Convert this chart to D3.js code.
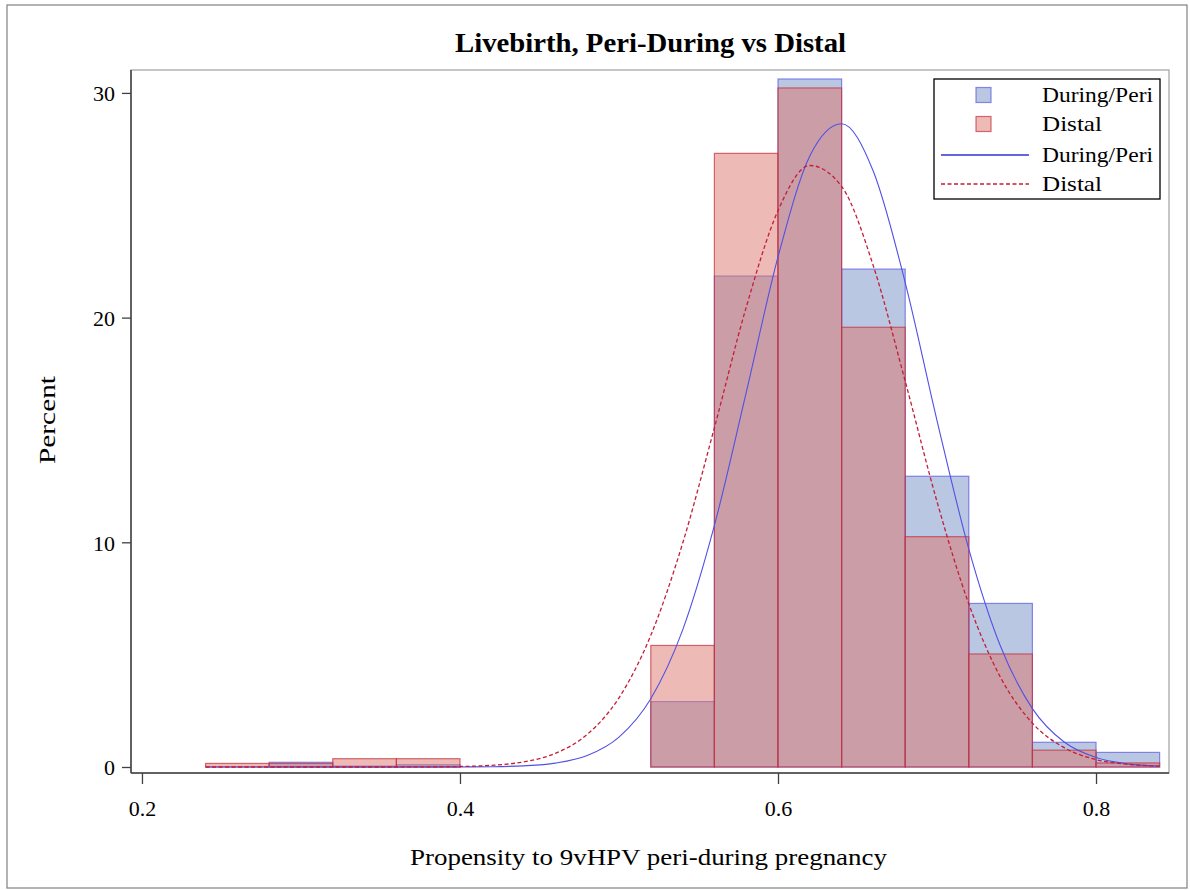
<!DOCTYPE html>
<html>
<head>
<meta charset="utf-8">
<script src="https://cdn.jsdelivr.net/npm/d3@7"></script>
<style>
  html, body { margin: 0; padding: 0; background: #fff; }
  svg text { font-family: "Times New Roman", Times, "Liberation Serif", serif !important; fill: #000; }
</style>
</head>
<body>
<svg id="chart" width="1190" height="890"></svg>
<script>
// ---- data ----
const title = "Livebirth, Peri-During vs Distal";
const xLabel = "Propensity to 9vHPV peri-during pregnancy";
const yLabel = "Percent";
const seriesNames = ["During/Peri", "Distal"];
const binWidth = 0.04;
const binStarts = [0.24, 0.28, 0.32, 0.36, 0.40, 0.44, 0.48, 0.52, 0.56, 0.60, 0.64, 0.68, 0.72, 0.76, 0.80];
const duringPct = [0, 0.21, 0.04, 0.10, 0, 0, 0, 2.91, 21.85, 30.62, 22.16, 12.94, 7.28, 1.10, 0.65];
const distalPct = [0.16, 0.16, 0.37, 0.37, 0, 0, 0, 5.41, 27.31, 30.22, 19.57, 10.25, 5.03, 0.75, 0.18];
const curveX = [0.24, 0.30, 0.36, 0.40, 0.42, 0.44, 0.46, 0.48, 0.50, 0.52, 0.54, 0.56, 0.58, 0.60, 0.62, 0.64, 0.66, 0.68, 0.70, 0.72, 0.74, 0.76, 0.78, 0.80, 0.82, 0.84];
const duringCurve = [0, 0, 0, 0.003, 0.013, 0.052, 0.173, 0.51, 1.33, 3.04, 6.09, 10.75, 16.66, 22.70, 27.19, 28.63, 26.50, 21.56, 15.42, 9.70, 5.36, 2.60, 1.11, 0.42, 0.14, 0.04];
const distalCurve = [0, 0, 0.001, 0.023, 0.076, 0.227, 0.61, 1.45, 3.08, 5.86, 9.95, 15.10, 20.46, 24.76, 26.77, 25.84, 22.29, 17.17, 11.81, 7.26, 3.98, 1.95, 0.86, 0.33, 0.12, 0.04];
const xTicks = [0.2, 0.4, 0.6, 0.8];
const yTicks = [0, 10, 20, 30];

// ---- layout ----
const svg = d3.select("#chart");
const FONT = '"Times New Roman", Times, "Liberation Serif", serif';
const L = 131, R = 1169, T = 70, B = 773;
const x = d3.scaleLinear().domain([0.1931, 0.8459]).range([L, R]);
const y = d3.scaleLinear().domain([-0.267, 31.02]).range([B, T]);

const blueFill = "rgb(115,143,197)", redFill = "rgb(221,118,108)";
const blueEdge = "rgb(90,90,225)", redEdge = "rgb(195,45,60)";

// outer border
svg.append("rect").attr("x", 7).attr("y", 5).attr("width", 1180).attr("height", 883)
  .attr("fill", "none").attr("stroke", "#808080").attr("stroke-width", 1.2);

// plot frame
svg.append("rect").attr("x", L).attr("y", T).attr("width", R - L).attr("height", B - T)
  .attr("fill", "none").attr("stroke", "#a0a0a0").attr("stroke-width", 1.2);

// bars
const g = svg.append("g");
function drawBars(vals, fill, edge) {
  g.append("g").selectAll("rect").data(binStarts).join("rect")
    .attr("x", (d) => x(d))
    .attr("width", (d) => x(d + binWidth) - x(d))
    .attr("y", (d, i) => y(vals[i]))
    .attr("height", (d, i) => y(0) - y(vals[i]))
    .attr("fill", fill).attr("fill-opacity", 0.5)
    .attr("stroke", edge).attr("stroke-opacity", 0.7).attr("stroke-width", 1.2);
}
drawBars(duringPct, blueFill, blueEdge);
drawBars(distalPct, redFill, redEdge);

// curves
const line = (vals) => d3.line().x((d) => x(d)).y((d, i) => y(vals[i])).curve(d3.curveMonotoneX)(curveX);
svg.append("path").attr("d", line(duringCurve)).attr("fill", "none")
  .attr("stroke", "rgb(80,80,230)").attr("stroke-width", 1.1);
svg.append("path").attr("d", line(distalCurve)).attr("fill", "none")
  .attr("stroke", "rgb(195,30,55)").attr("stroke-width", 1.3).attr("stroke-dasharray", "4,2.5");

// axes
const xAxis = svg.append("g").attr("transform", `translate(0,${B})`)
  .call(d3.axisBottom(x).tickValues(xTicks).tickFormat(d3.format(".1f")).tickSize(11).tickSizeOuter(0))
  .attr("font-family", FONT);
xAxis.select(".domain").attr("stroke", "#404040").attr("stroke-width", 1.5).attr("d", `M${L},0H${R}`);
xAxis.selectAll(".tick line").attr("stroke", "#404040").attr("stroke-width", 1.3);
xAxis.selectAll(".tick text").attr("font-size", 22).attr("dy", 0).attr("y", 43);

const yAxis = svg.append("g").attr("transform", `translate(${L},0)`)
  .call(d3.axisLeft(y).tickValues(yTicks).tickFormat(d3.format("d")).tickSize(9).tickSizeOuter(0))
  .attr("font-family", FONT);
yAxis.select(".domain").attr("stroke", "#404040").attr("stroke-width", 1.5).attr("d", `M0,${T}V${B}`);
yAxis.selectAll(".tick line").attr("stroke", "#404040").attr("stroke-width", 1.3);
yAxis.selectAll(".tick text").attr("font-size", 22).attr("x", -16).attr("dy", "0.35em");

// title & labels
svg.append("text").attr("x", 650.5).attr("y", 52).attr("text-anchor", "middle")
  .attr("font-size", 27).attr("font-weight", "bold")
  .attr("textLength", 391).attr("lengthAdjust", "spacingAndGlyphs").text(title);
svg.append("text").attr("x", 648.5).attr("y", 865).attr("text-anchor", "middle")
  .attr("font-size", 23).attr("textLength", 477).attr("lengthAdjust", "spacingAndGlyphs").text(xLabel);
svg.append("text").attr("transform", "translate(55,420) rotate(-90)").attr("text-anchor", "middle")
  .attr("font-size", 23).attr("textLength", 88).attr("lengthAdjust", "spacingAndGlyphs").text(yLabel);

// legend
const lg = svg.append("g");
lg.append("rect").attr("x", 934).attr("y", 79).attr("width", 226).attr("height", 120)
  .attr("fill", "#fff").attr("stroke", "#000").attr("stroke-width", 1.3);
const rowY = [95, 124, 155, 184];
[[blueFill, blueEdge], [redFill, redEdge]].forEach((c, i) => {
  lg.append("rect").attr("x", 976).attr("y", rowY[i] - 7.5).attr("width", 15).attr("height", 15)
    .attr("fill", c[0]).attr("fill-opacity", 0.5).attr("stroke", c[1]).attr("stroke-opacity", 0.7).attr("stroke-width", 1.2);
});
lg.append("line").attr("x1", 941).attr("x2", 1029).attr("y1", rowY[2]).attr("y2", rowY[2])
  .attr("stroke", "rgb(50,50,210)").attr("stroke-width", 1.3);
lg.append("line").attr("x1", 941).attr("x2", 1029).attr("y1", rowY[3]).attr("y2", rowY[3])
  .attr("stroke", "rgb(195,30,55)").attr("stroke-width", 1.3).attr("stroke-dasharray", "4,2.5");
const legendLabels = [seriesNames[0], seriesNames[1], seriesNames[0], seriesNames[1]];
const legendLens = [111, 60, 111, 60];
legendLabels.forEach((t, i) => {
  lg.append("text").attr("x", 1042).attr("y", rowY[i] + 7).attr("font-size", 22)
    .attr("textLength", legendLens[i]).attr("lengthAdjust", "spacingAndGlyphs").text(t);
});
</script>
</body>
</html>
